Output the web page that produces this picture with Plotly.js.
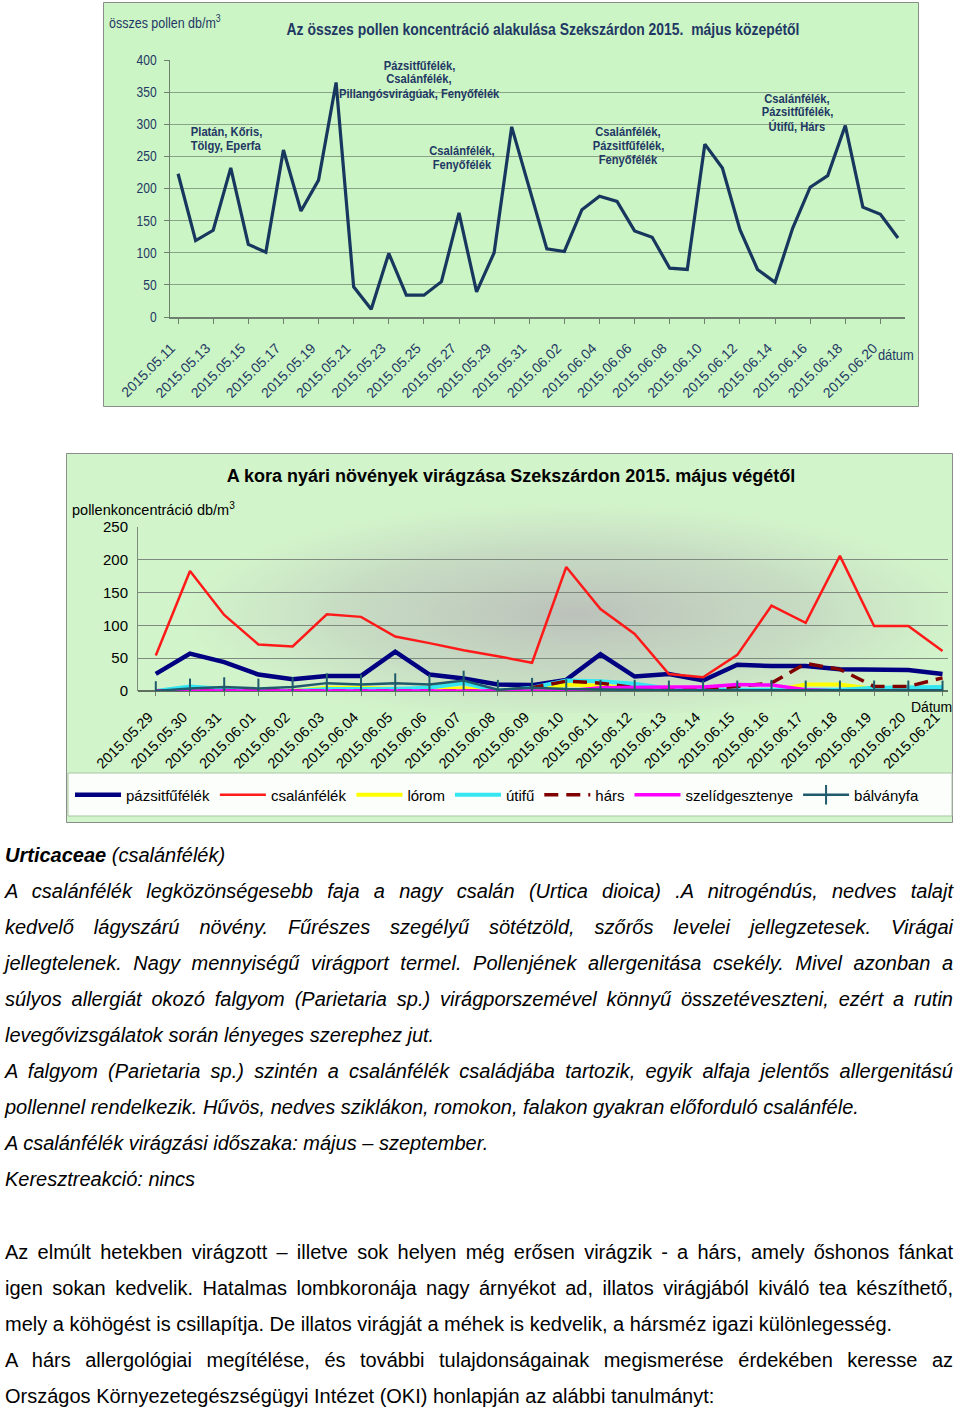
<!DOCTYPE html>
<html>
<head>
<meta charset="utf-8">
<script src="https://cdn.plot.ly/plotly-3.0.1.min.js"></script>
<style>
  html, body { margin:0; padding:0; background:#ffffff; }
  body { width:960px; height:1410px; position:relative; overflow:hidden; }
  #chart1 { position:absolute; left:103px; top:2px; width:816px; height:405px; }
  #chart2 { position:absolute; left:66px; top:453px; width:887px; height:370px; }
  .ln { position:absolute; left:5px; width:948px; height:28px; line-height:28px; color:#000; white-space:nowrap;
        font-family:'Liberation Sans',Arial,sans-serif; font-size:20px; }
  .it { font-style:italic; }
</style>
</head>
<body>
<div id="chart1"></div>
<div id="chart2"></div>
<div id="txt"></div>
<script>
// ---------- Chart 1 data ----------
const dates1 = ['2015.05.11','2015.05.12','2015.05.13','2015.05.14','2015.05.15','2015.05.16','2015.05.17','2015.05.18','2015.05.19','2015.05.20',
  '2015.05.21','2015.05.22','2015.05.23','2015.05.24','2015.05.25','2015.05.26','2015.05.27','2015.05.28','2015.05.29','2015.05.30',
  '2015.05.31','2015.06.01','2015.06.02','2015.06.03','2015.06.04','2015.06.05','2015.06.06','2015.06.07','2015.06.08','2015.06.09',
  '2015.06.10','2015.06.11','2015.06.12','2015.06.13','2015.06.14','2015.06.15','2015.06.16','2015.06.17','2015.06.18','2015.06.19',
  '2015.06.20','2015.06.21'];
const totalPollen = [223,119,135,232,113,101,260,165,213,365,47,12,99,34,34,55,162,39,100,296,
  201,106,102,167,188,180,134,124,76,74,269,232,136,74,54,138,202,220,298,171,160,123];
const tickLabels1 = ['2015.05.11','2015.05.13','2015.05.15','2015.05.17','2015.05.19','2015.05.21','2015.05.23','2015.05.25','2015.05.27','2015.05.29',
  '2015.05.31','2015.06.02','2015.06.04','2015.06.06','2015.06.08','2015.06.10','2015.06.12','2015.06.14','2015.06.16','2015.06.18','2015.06.20'];
const notes1 = [
  {lines:['Platán, Kőris,','Tölgy, Eperfa'], px:123, py:129},
  {lines:['Pázsitfűfélék,','Csalánfélék,','Pillangósvirágúak, Fenyőfélék'], px:316, py:63},
  {lines:['Csalánfélék,','Fenyőfélék'], px:359, py:148},
  {lines:['Csalánfélék,','Pázsitfűfélék,','Fenyőfélék'], px:525, py:129},
  {lines:['Csalánfélék,','Pázsitfűfélék,','Útifű, Hárs'], px:694, py:96}
];

// ---------- Chart 2 data ----------
const dates2 = ['2015.05.29','2015.05.30','2015.05.31','2015.06.01','2015.06.02','2015.06.03','2015.06.04','2015.06.05','2015.06.06','2015.06.07',
  '2015.06.08','2015.06.09','2015.06.10','2015.06.11','2015.06.12','2015.06.13','2015.06.14','2015.06.15','2015.06.16','2015.06.17',
  '2015.06.18','2015.06.19','2015.06.20','2015.06.21'];
const pazsitfufelek   = [26,57,44,25,18,23,23,60,25,19,10,9,17,56,22,26,16,40,38,38,33,32,32,26];
const csalanfelek     = [54,183,116,71,68,117,113,83,73,62,53,43,189,125,87,26,21,55,130,104,206,99,99,61];
const lorom           = [0,2,3,0,0,5,5,3,2,4,0,0,10,8,4,2,1,1,0,10,10,3,1,1];
const utifu           = [0,7,3,0,0,3,3,3,5,12,0,5,16,15,11,4,2,2,3,3,2,5,6,6];
const hars            = [0,0,0,0,0,0,0,0,0,0,0,5,15,12,5,3,3,7,12,42,33,7,7,20];
const szelidgesztenye = [0,0,0,0,0,0,0,0,0,0,0,0,0,5,6,6,6,10,9,2,0,0,0,0];
const balvanyfa       = [0,4,6,4,6,12,10,12,10,16,2,5,3,2,2,1,1,1,2,1,1,1,1,1];
const seriesNames2 = ['pázsitfűfélék','csalánfélék','lórom','útifű','hárs','szelídgesztenye','bálványfa'];

const SANS = "'Liberation Sans',Arial,sans-serif";
const NAVY = '#1f3864';

// squeeze svg text horizontally (Calibri-like look)
function condense(gd, factor, skipSel, fixed){
  const skip = skipSel ? new Set(gd.querySelectorAll(skipSel)) : new Set();
  gd.querySelectorAll('svg text').forEach(t=>{
    if (skip.has(t)) return;
    const lines = t.querySelectorAll('tspan.line');
    const els = lines.length ? Array.from(lines) : [t];
    els.forEach(el=>{
      const w = el.getComputedTextLength();
      if (w>0){ el.setAttribute('textLength', (w*factor).toFixed(1)); el.setAttribute('lengthAdjust','spacingAndGlyphs'); }
    });
  });
  if (fixed) fixed.forEach(f=>{
    const el = gd.querySelector(f.sel);
    if (el){ el.setAttribute('textLength', f.len); el.setAttribute('lengthAdjust','spacingAndGlyphs'); }
  });
}
// nudge rotated x tick labels so their ends sit like the original
function nudgeXTicks(gd, dx, dy){
  gd.querySelectorAll('.xtick text').forEach(t=>{
    const tr = t.getAttribute('transform') || '';
    t.setAttribute('transform', 'translate('+dx+','+dy+') '+tr);
  });
}

// ---------- Chart 1 ----------
(function(){
  const W=816, H=405, L=67, R=14, T=58, B=90;
  const pw=W-L-R, ph=H-T-B;
  const px = x => (x-L)/pw, py = y => 1-(y-T)/ph;
  const ann = [];
  notes1.forEach(n => n.lines.forEach((s,k) => ann.push({text:'<b>'+s+'</b>', xref:'paper', yref:'paper', x:px(n.px), y:py(n.py+14*k),
     xanchor:'center', yanchor:'middle', showarrow:false, align:'center',
     font:{family:SANS, size:13, color:NAVY}})));
  ann.push({text:'összes pollen db/m<sup>3</sup>', xref:'paper', yref:'paper', x:px(-5), y:py(20), xanchor:'left', yanchor:'middle',
     showarrow:false, font:{family:SANS, size:14.5, color:NAVY}});
  ann.push({text:'dátum', xref:'paper', yref:'paper', x:px(770), y:py(352), xanchor:'left', yanchor:'middle',
     showarrow:false, font:{family:SANS, size:15, color:NAVY}});
  const data=[{x:dates1, y:totalPollen, type:'scatter', mode:'lines', line:{color:'#17375e', width:3.2}, hoverinfo:'x+y'}];
  const layout={
    width:W, height:H, margin:{l:L, r:R, t:T, b:B},
    paper_bgcolor:'#ccf5c5', plot_bgcolor:'#ccf5c5', showlegend:false,
    title:{text:'<b>Az összes pollen koncentráció alakulása Szekszárdon 2015.  május közepétől</b>', x:440/W, y:1-27/H,
      xanchor:'center', yanchor:'middle', font:{family:SANS, size:17, color:NAVY}},
    xaxis:{type:'category', range:[-0.46,41.4], tickmode:'array', tickvals:tickLabels1, ticktext:tickLabels1, tickangle:-45,
      tickfont:{family:SANS, size:14, color:NAVY}, showgrid:false, showline:true, linecolor:'#6f7f6f', linewidth:1.5,
      ticks:'outside', ticklen:5, tickcolor:'#6f7f6f', zeroline:false, ticklabelstandoff:9},
    yaxis:{range:[0,400], dtick:50, tickfont:{family:SANS, size:14, color:NAVY}, showgrid:true, gridcolor:'#8aa28a', gridwidth:1,
      showline:true, linecolor:'#6f7f6f', linewidth:1.5, ticks:'outside', ticklen:5, tickcolor:'#6f7f6f', zeroline:false, ticklabelstandoff:4},
    annotations:ann,
    shapes:[{type:'rect', xref:'paper', yref:'paper', x0:px(0.5), x1:px(W-0.5), y0:py(0.5), y1:py(H-0.5), line:{color:'#8c8c8c', width:1}, layer:'below'}]
  };
  Plotly.newPlot('chart1', data, layout, {staticPlot:true, displayModeBar:false}).then(gd=>{
    condense(gd, 0.86, '.xtick text, .gtitle', [{sel:'.gtitle', len:513}]);
    nudgeXTicks(gd, -7, 2);
  });
})();

// ---------- Chart 2 ----------
(function(){
  const W=887, H=370, L=72, R=5, T=74, B=132;
  const pw=W-L-R, ph=H-T-B;
  const px = x => (x-L)/pw, py = y => 1-(y-T)/ph;
  const svg = "<svg xmlns='http://www.w3.org/2000/svg' width='200' height='100' viewBox='0 0 200 100' preserveAspectRatio='none'>"+
    "<defs><radialGradient id='g' cx='0.5' cy='0.55' r='0.5'>"+
    "<stop offset='0' stop-color='#b8b8b8' stop-opacity='0.85'/><stop offset='0.6' stop-color='#bcc4bc' stop-opacity='0.5'/>"+
    "<stop offset='1' stop-color='#c0c8c0' stop-opacity='0'/></radialGradient></defs>"+
    "<rect width='200' height='100' fill='url(#g)'/></svg>";
  const src = 'data:image/svg+xml;base64,' + btoa(svg);
  const colors = ['#000080','#ff1a1a','#ffff00','#33e6f2','#800000','#ff00ff','#1f5b6b'];
  const widths = [4.5,2.5,4,4,3.5,3.5,2.5];
  const vals = [pazsitfufelek, csalanfelek, lorom, utifu, hars, szelidgesztenye, balvanyfa];
  const data = vals.map((v,i)=>{
    const t={x:dates2, y:v, name:seriesNames2[i], type:'scatter', mode:'lines', line:{color:colors[i], width:widths[i]}};
    if(i===4) t.line.dash='14px,8px';
    if(i===6){ t.mode='lines+markers'; t.marker={symbol:'line-ns-open', size:14, line:{color:colors[i], width:2}, color:colors[i]}; }
    return t;
  });
  const layout={
    width:W, height:H, margin:{l:L, r:R, t:T, b:B, autoexpand:false},
    paper_bgcolor:'#d2f4ca', plot_bgcolor:'rgba(0,0,0,0)',
    title:{text:'<b>A kora nyári növények virágzása Szekszárdon 2015. május végétől</b>', x:445/W, y:1-23/H,
      xanchor:'center', yanchor:'middle', font:{family:SANS, size:18, color:'#000'}},
    xaxis:{type:'category', range:[-0.52,23.16], tickangle:-45, tickfont:{family:SANS, size:14.5, color:'#000'},
      showgrid:false, showline:false, ticks:'outside', ticklen:4, tickcolor:'#708070', zeroline:false, ticklabelstandoff:3},
    yaxis:{range:[0,250], dtick:50, tickfont:{family:SANS, size:15, color:'#000'}, showgrid:true, gridcolor:'#7f8a7f', gridwidth:1,
      showline:true, linecolor:'#7f8a7f', linewidth:1, zeroline:true, zerolinecolor:'#5f6f5f', zerolinewidth:1.5, ticklabelstandoff:6},
    legend:{orientation:'h', x:px(4), y:py(342), xanchor:'left', yanchor:'middle', bgcolor:'rgba(0,0,0,0)',
      font:{family:SANS, size:15, color:'#000'}, itemwidth:46, tracegroupgap:0},
    images:[{source:src, xref:'paper', yref:'paper', x:px(120), y:py(40), sizex:780/pw, sizey:220/ph, sizing:'stretch',
      xanchor:'left', yanchor:'top', layer:'below', opacity:1}],
    annotations:[
      {text:'pollenkoncentráció db/m<sup>3</sup>', xref:'paper', yref:'paper', x:px(4), y:py(56), xanchor:'left', yanchor:'middle',
       showarrow:false, font:{family:SANS, size:14.5, color:'#000'}},
      {text:'Dátum', xref:'paper', yref:'paper', x:px(865), y:py(254), xanchor:'center', yanchor:'middle',
       showarrow:false, font:{family:SANS, size:14, color:'#000'}}
    ],
    shapes:[
      {type:'rect', xref:'paper', yref:'paper', x0:px(0.5), x1:px(W-0.5), y0:py(0.5), y1:py(H-0.5), line:{color:'#8c8c8c', width:1}, layer:'below'},
      {type:'rect', xref:'paper', yref:'paper', x0:px(2), x1:px(886), y0:py(320), y1:py(363), fillcolor:'#fbfefa', line:{color:'#a9c4a5', width:1}, layer:'above'}
    ]
  };
  Plotly.newPlot('chart2', data, layout, {staticPlot:true, displayModeBar:false}).then(gd=>{
    nudgeXTicks(gd, -7, 4);
  });
})();

// ---------- Text ----------
(function(){
  const lines = [
    {y:855, it:true, j:false, html:'<b>Urticaceae</b> (csalánfélék)'},
    {y:891, it:true, j:true, html:'A csalánfélék legközönségesebb faja a nagy csalán (Urtica dioica) .A nitrogéndús, nedves talajt'},
    {y:927, it:true, j:true, html:'kedvelő lágyszárú növény. Fűrészes szegélyű sötétzöld, szőrős levelei jellegzetesek. Virágai'},
    {y:963, it:true, j:true, html:'jellegtelenek. Nagy mennyiségű virágport termel. Pollenjének allergenitása csekély. Mivel azonban a'},
    {y:999, it:true, j:true, html:'súlyos allergiát okozó falgyom (Parietaria sp.) virágporszemével könnyű összetéveszteni, ezért a rutin'},
    {y:1035, it:true, j:false, html:'levegővizsgálatok során lényeges szerephez jut.'},
    {y:1071, it:true, j:true, html:'A falgyom (Parietaria sp.) szintén a csalánfélék családjába tartozik, egyik alfaja jelentős allergenitású'},
    {y:1107, it:true, j:false, html:'pollennel rendelkezik. Hűvös, nedves sziklákon, romokon, falakon gyakran előforduló csalánféle.'},
    {y:1143, it:true, j:false, html:'A csalánfélék virágzási időszaka: május – szeptember.'},
    {y:1179, it:true, j:false, html:'Keresztreakció: nincs'},
    {y:1252, it:false, j:true, html:'Az elmúlt hetekben virágzott – illetve sok helyen még erősen virágzik - a hárs, amely őshonos fánkat'},
    {y:1288, it:false, j:true, html:'igen sokan kedvelik. Hatalmas lombkoronája nagy árnyékot ad, illatos virágjából kiváló tea készíthető,'},
    {y:1324, it:false, j:false, html:'mely a köhögést is csillapítja. De illatos virágját a méhek is kedvelik, a hársméz igazi különlegesség.'},
    {y:1360, it:false, j:true, html:'A hárs allergológiai megítélése, és további tulajdonságainak megismerése érdekében keresse az'},
    {y:1396, it:false, j:false, html:'Országos Környezetegészségügyi Intézet (OKI) honlapján az alábbi tanulmányt:'}
  ];
  const box = document.getElementById('txt');
  const FULL = 948;
  lines.forEach(l=>{
    const d=document.createElement('div');
    d.className='ln'+(l.it?' it':'');
    d.style.top=(l.y-14)+'px';
    const s=document.createElement('span');
    s.innerHTML=l.html;
    d.appendChild(s);
    box.appendChild(d);
    const w = s.getBoundingClientRect().width;
    const text = s.textContent;
    const nSp = (text.match(/ /g)||[]).length;
    if (w > FULL){
      s.style.letterSpacing = ((FULL - w)/text.length).toFixed(3)+'px';
    } else if (l.j && nSp>0){
      s.style.wordSpacing = ((FULL - w)/nSp).toFixed(3)+'px';
    }
  });
})();
</script>
</body>
</html>
